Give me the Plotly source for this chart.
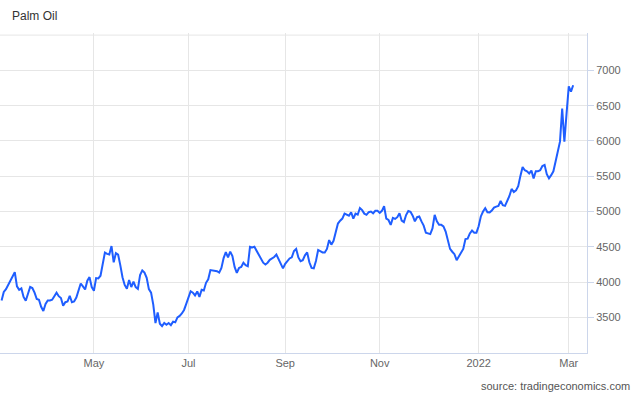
import pandas as pd
import plotly.graph_objects as go

# Daily (trading-day) closing values, 2021-03-04 .. 2022-03-03
values = [
    3740, 3860, 3900, 3960, 4010, 4080, 4140, 3940, 3890, 3910,
    3790, 3735, 3830, 3930, 3915, 3850, 3760, 3750, 3650, 3590,
    3690, 3740, 3740, 3750, 3800, 3850, 3800, 3775, 3665, 3715,
    3725, 3806, 3715, 3725, 3780, 3870, 3980, 3940, 3895, 4020,
    4070, 3930, 3877, 4057, 4052, 4090, 4250, 4419, 4400, 4390,
    4510, 4280, 4410, 4390, 4240, 4070, 3960, 3905, 4030, 3930,
    4005, 3930, 3905, 4100, 4165, 4135, 4060, 3900, 3850, 3680,
    3420, 3570, 3410, 3375, 3420, 3395, 3419, 3390, 3440, 3430,
    3500, 3520, 3555, 3605, 3690, 3780, 3870, 3850, 3810, 3867,
    3790, 3891, 3880, 3990, 4040, 4170, 4165, 4160, 4155, 4135,
    4200, 4340, 4425, 4350, 4432, 4370, 4215, 4130, 4200, 4215,
    4275, 4240, 4225, 4500, 4490, 4500, 4440, 4390, 4320, 4275,
    4250, 4275, 4316, 4330, 4355, 4390, 4330, 4265, 4195, 4260,
    4300, 4335, 4350, 4440, 4470, 4350, 4295, 4310, 4380, 4420,
    4280, 4200, 4195, 4300, 4455, 4440, 4420, 4420, 4470, 4595,
    4530, 4585, 4690, 4830, 4870, 4900, 4970, 4955, 4940, 4990,
    4900, 4970, 4955, 5050, 5020, 4970, 4953, 4990, 5000, 4975,
    5010, 5010, 4980, 5010, 5075, 4900, 4880, 4811, 4910, 4895,
    4920, 4975, 4870, 4850, 4950, 5008, 4995, 4940, 4860, 4920,
    4929, 4860, 4800, 4700, 4690, 4680, 4760, 4953, 4860, 4811,
    4811, 4790, 4717, 4595, 4470, 4430, 4395, 4310, 4370, 4425,
    4470, 4610, 4615, 4690, 4730, 4700, 4700, 4790, 4930, 5000,
    5048, 4990, 4988, 5015, 5056, 5070, 5080, 5150, 5090, 5080,
    5150, 5220, 5320, 5275, 5300, 5360, 5505, 5630, 5585, 5570,
    5540, 5580, 5470, 5570, 5570, 5585, 5645, 5661, 5530, 5470,
    5515, 5570, 5710, 5865, 5990, 6460, 5990, 6390, 6774, 6700, 6790,
]
start_date = "2021-03-04"
dates = pd.bdate_range(start=start_date, periods=len(values))

x_tick_vals = ["2021-05-03", "2021-07-01", "2021-09-01", "2021-11-01", "2022-01-03", "2022-03-01"]
x_tick_text = ["May", "Jul", "Sep", "Nov", "2022", "Mar"]
y_tick_vals = [3500, 4000, 4500, 5000, 5500, 6000, 6500, 7000]
y_tick_text = ["3500", "4000", "4500", "5000", "5500", "6000", "6500", "7000"]

FONT = "Liberation Sans, Arial, sans-serif"
GRID = "#e6e6e6"
AXIS = "#ccd6eb"

fig = go.Figure()
fig.add_trace(go.Scatter(
    x=dates, y=values, mode="lines",
    line=dict(color="#1f5eff", width=2),
    hoverinfo="skip", showlegend=False,
))

fig.update_layout(
    width=640, height=402,
    margin=dict(l=0, r=53, t=33, b=49),
    paper_bgcolor="white", plot_bgcolor="white",
    font=dict(family=FONT, size=11, color="#666666"),
    title=dict(text="Palm Oil", x=12 / 640, xanchor="left",
               y=1 - 16 / 402, yanchor="middle",
               font=dict(family=FONT, size=12, color="#333333")),
    xaxis=dict(
        type="date",
        rangebreaks=[dict(bounds=["sat", "mon"])],
        range=["2021-03-03 06:45", "2022-03-11 07:00"],
        tickmode="array", tickvals=x_tick_vals, ticktext=x_tick_text,
        showgrid=True, gridcolor=GRID, gridwidth=1,
        showline=True, linecolor=AXIS, linewidth=1,
        ticks="", zeroline=False,
        tickfont=dict(family=FONT, size=11, color="#666666"),
        fixedrange=True,
    ),
    yaxis=dict(
        side="right",
        range=[2995, 7530],
        tickmode="array", tickvals=y_tick_vals, ticktext=y_tick_text,
        showgrid=True, gridcolor=GRID, gridwidth=1,
        showline=True, linecolor=AXIS, linewidth=1,
        ticks="outside", ticklen=6, tickcolor=AXIS,
        zeroline=False,
        tickfont=dict(family=FONT, size=11, color="#666666"),
        fixedrange=True,
    ),
    shapes=[dict(type="line", xref="paper", yref="y", x0=0, x1=1, y0=7500, y1=7500,
                 line=dict(color=GRID, width=1), layer="below")],
    annotations=[dict(text="source: tradingeconomics.com", xref="paper", yref="paper",
                      x=632 / 587, y=-(386 - 353) / 320, xanchor="right", yanchor="middle",
                      showarrow=False, font=dict(family=FONT, size=11, color="#555555"))],
)

fig.write_html("out.html", config={"displayModeBar": False},
               post_script="document.body.style.margin='0';document.body.style.padding='0';")
